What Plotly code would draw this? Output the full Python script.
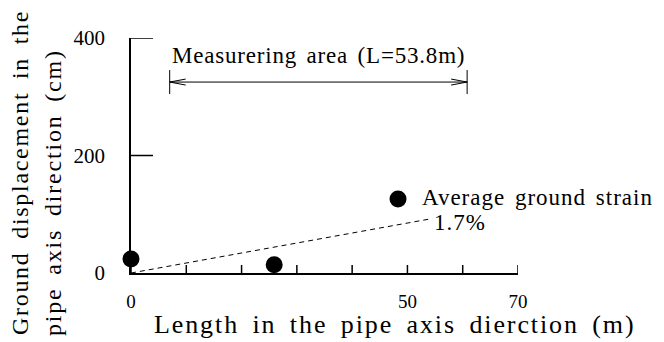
import plotly.graph_objects as go

# data
length_m = [0, 25.9, 48.3]
displacement_cm = [24, 14, 126]
strain_x = [0, 53.8]
strain_y = [0, 91.5]
area_start, area_end = 7.0, 60.8
area_y = 325
x_ticks = [0, 10, 20, 30, 40, 50, 60, 70]
x_tick_labels = {0: "0", 50: "50", 70: "70"}
y_ticks = [0, 200, 400]
y_tick_labels = ["0", "200", "400"]

FONT = "Liberation Serif, Times New Roman, serif"


def spaced(text, ls, ws):
    return f'<span style="letter-spacing:{ls}px;word-spacing:{ws}px">{text}</span>'


fig = go.Figure()
fig.add_trace(go.Scatter(x=strain_x, y=strain_y, mode="lines",
                         line=dict(color="black", width=1, dash="5px,4px"),
                         hoverinfo="skip", cliponaxis=False))
fig.add_trace(go.Scatter(x=length_m, y=displacement_cm, mode="markers",
                         marker=dict(color="black", size=17), cliponaxis=False))
fig.add_trace(go.Scatter(x=[area_start, area_end], y=[area_y, area_y], mode="lines",
                         line=dict(color="black", width=1), cliponaxis=False, hoverinfo="skip"))

shapes = []
for v in x_ticks:
    shapes.append(dict(type="line", xref="x", yref="y", ysizemode="pixel", yanchor=0,
                       x0=v, x1=v, y0=-8, y1=8, line=dict(color="black", width=1.5)))
for v in y_ticks[1:]:
    shapes.append(dict(type="line", xref="x", yref="y", xsizemode="pixel", xanchor=0,
                       x0=-21, x1=22, y0=v, y1=v, line=dict(color="black", width=1.5)))
for v in (area_start, area_end):
    shapes.append(dict(type="line", xref="x", yref="y", ysizemode="pixel", yanchor=area_y,
                       x0=v, x1=v, y0=-12, y1=12, line=dict(color="black", width=1)))
shapes.append(dict(type="path", xref="x", yref="y", xsizemode="pixel", ysizemode="pixel",
                   xanchor=area_start, yanchor=area_y,
                   path="M 16 3 L 0 0 L 16 -3", line=dict(color="black", width=1)))
shapes.append(dict(type="path", xref="x", yref="y", xsizemode="pixel", ysizemode="pixel",
                   xanchor=area_end, yanchor=area_y,
                   path="M -16 3 L 0 0 L -16 -3", line=dict(color="black", width=1)))

annotations = [
    dict(x=(area_start + area_end) / 2, y=371, xref="x", yref="y", showarrow=False,
         text=spaced("Measurering area (L=53.8m)", 0.8, 3),
         font=dict(family=FONT, size=23, color="black"), xanchor="center", yanchor="middle"),
    dict(x=1.0, y=(273 - 197) / 235, xref="paper", yref="paper", showarrow=False,
         xshift=420 - 518, text=spaced("Average ground strain", 1.0, 3),
         font=dict(family=FONT, size=23, color="black"), xanchor="left", yanchor="middle"),
    dict(x=1.0, y=(273 - 222) / 235, xref="paper", yref="paper", showarrow=False,
         xshift=432 - 518, text=spaced("1.7%", 1, 0),
         font=dict(family=FONT, size=23, color="black"), xanchor="left", yanchor="middle"),
    dict(x=(395 - 131) / 387, y=(273 - 325) / 235, xref="paper", yref="paper", showarrow=False,
         text=spaced("Length in the pipe axis dierction (m)", 1.9, 5),
         font=dict(family=FONT, size=26, color="black"), xanchor="center", yanchor="middle"),
    dict(x=(20 - 131) / 387, y=(273 - 173) / 235, xref="paper", yref="paper", showarrow=False,
         textangle=-90, text=spaced("Ground displacement in the", 1.7, 5),
         font=dict(family=FONT, size=24, color="black"), xanchor="center", yanchor="middle"),
    dict(x=(53 - 131) / 387, y=(273 - 193) / 235, xref="paper", yref="paper", showarrow=False,
         textangle=-90, text=spaced("pipe axis direction (cm)", 1.8, 5),
         font=dict(family=FONT, size=24, color="black"), xanchor="center", yanchor="middle"),
]

fig.update_layout(
    width=664, height=342,
    margin=dict(l=131, r=146, t=38, b=69),
    paper_bgcolor="white", plot_bgcolor="white",
    showlegend=False,
    shapes=shapes, annotations=annotations,
    xaxis=dict(range=[0, 70], showgrid=False, zeroline=False, showline=True,
               linecolor="black", linewidth=1.5, ticks="",
               tickvals=list(x_tick_labels.keys()), ticktext=list(x_tick_labels.values()),
               ticklabelstandoff=10,
               tickfont=dict(family=FONT, size=19, color="black")),
    yaxis=dict(range=[0, 400], showgrid=False, zeroline=False, showline=True,
               linecolor="black", linewidth=1.5, ticks="",
               tickvals=y_ticks, ticktext=y_tick_labels, ticklabelstandoff=20,
               tickfont=dict(family=FONT, size=21, color="black")),
)

fig.write_html("out.html")
